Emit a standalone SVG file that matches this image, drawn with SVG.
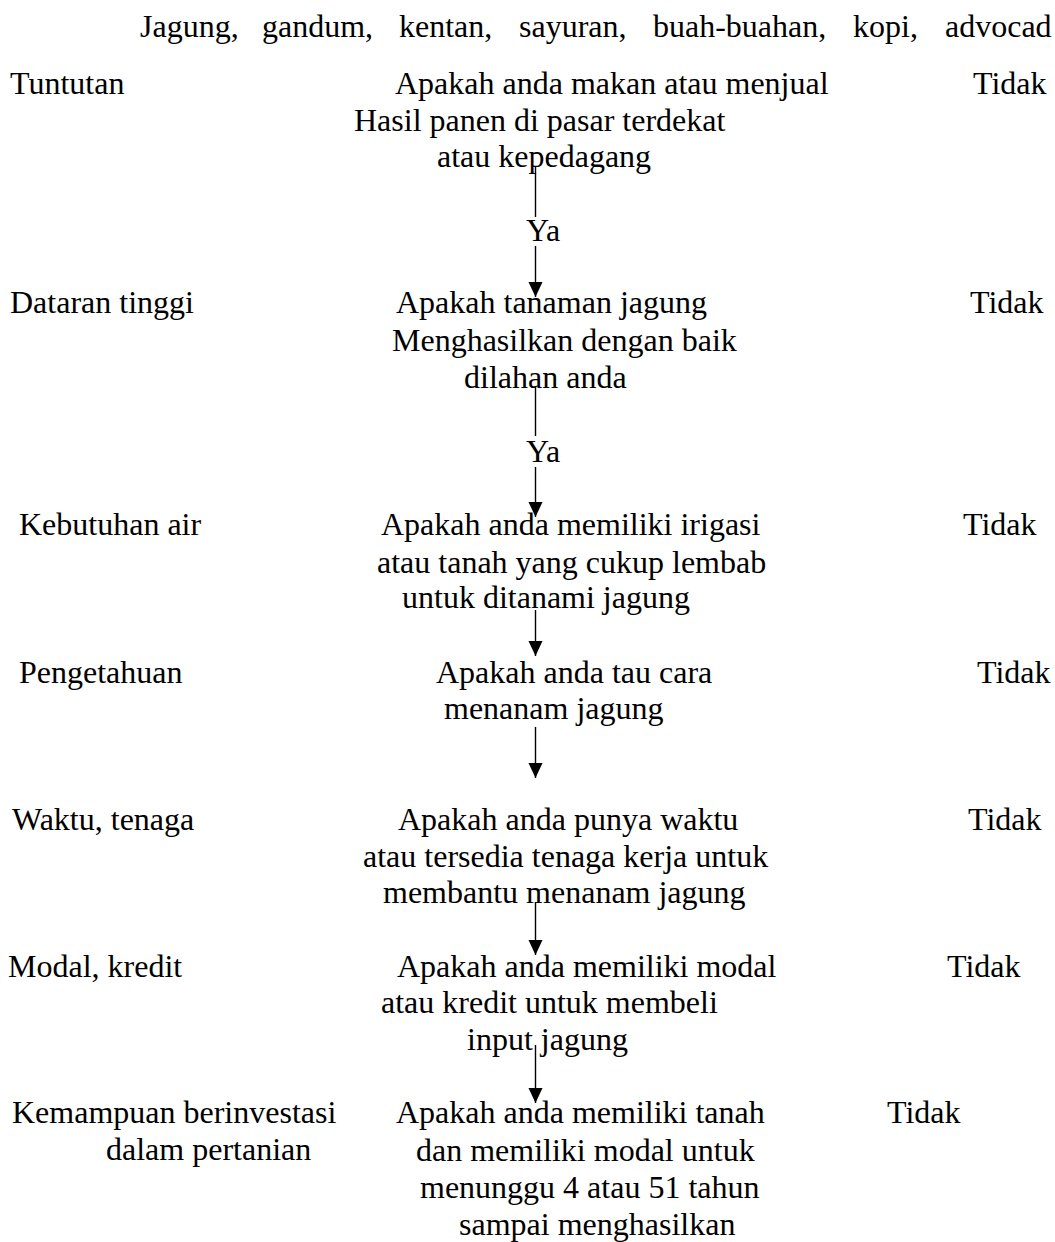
<svg xmlns="http://www.w3.org/2000/svg" width="1055" height="1242" viewBox="0 0 1055 1242">
<defs>
<style>
text{font-family:"Liberation Serif","Times New Roman",serif;font-size:32px;fill:#000}
.c{stroke:#000;stroke-width:1.4;fill:none}
</style>
<marker id="ah" markerUnits="userSpaceOnUse" markerWidth="16" markerHeight="16" refX="15" refY="7" orient="auto">
<path d="M0,0 L15,7 L0,14 z" fill="#000"/>
</marker>
</defs>
<rect width="1055" height="1242" fill="#fff"/>
<g id="header">
<text y="37"><tspan x="140">Jagung,</tspan><tspan x="262">gandum,</tspan><tspan x="399">kentan,</tspan><tspan x="519">sayuran,</tspan><tspan x="653">buah-buahan,</tspan><tspan x="853">kopi,</tspan><tspan x="945">advocad</tspan></text>
</g>
<g id="labels">
<text x="10" y="94">Tuntutan</text>
<text x="10" y="313">Dataran tinggi</text>
<text x="19" y="535">Kebutuhan air</text>
<text x="19" y="683">Pengetahuan</text>
<text x="12" y="830">Waktu, tenaga</text>
<text x="8" y="977">Modal, kredit</text>
<text x="12" y="1123">Kemampuan berinvestasi</text>
<text x="106" y="1160">dalam pertanian</text>
</g>
<g id="q1"><text x="395" y="94">Apakah anda makan atau menjual</text><text x="354" y="131">Hasil panen di pasar terdekat</text><text x="437" y="167">atau kepedagang</text></g>
<g id="q2"><text x="396" y="313">Apakah tanaman jagung</text><text x="392" y="351">Menghasilkan dengan baik</text><text x="464" y="388">dilahan anda</text></g>
<g id="q3"><text x="381" y="535">Apakah anda memiliki irigasi</text><text x="377" y="573">atau tanah yang cukup lembab</text><text x="402" y="608">untuk ditanami jagung</text></g>
<g id="q4"><text x="436" y="683">Apakah anda tau cara</text><text x="444" y="719">menanam jagung</text></g>
<g id="q5"><text x="398" y="830">Apakah anda punya waktu</text><text x="363" y="867">atau tersedia tenaga kerja untuk</text><text x="383" y="903">membantu menanam jagung</text></g>
<g id="q6"><text x="397" y="977">Apakah anda memiliki modal</text><text x="381" y="1013">atau kredit untuk membeli</text><text x="467" y="1050">input jagung</text></g>
<g id="q7"><text x="396" y="1123">Apakah anda memiliki tanah</text><text x="416" y="1161">dan memiliki modal untuk</text><text x="420" y="1198">menunggu 4 atau 51 tahun</text><text x="459" y="1235">sampai menghasilkan</text></g>
<g id="tidak">
<text x="973" y="94">Tidak</text>
<text x="970" y="313">Tidak</text>
<text x="963" y="535">Tidak</text>
<text x="977" y="683">Tidak</text>
<text x="968" y="830">Tidak</text>
<text x="947" y="977">Tidak</text>
<text x="887" y="1123">Tidak</text>
</g>
<g id="connectors">
<line class="c" x1="535.5" y1="166" x2="535.5" y2="217"/>
<text x="526" y="241">Ya</text>
<line class="c" x1="535.5" y1="246" x2="535.5" y2="297" marker-end="url(#ah)"/>
<line class="c" x1="535.5" y1="387" x2="535.5" y2="436"/>
<text x="526" y="462">Ya</text>
<line class="c" x1="535.5" y1="467" x2="535.5" y2="517" marker-end="url(#ah)"/>
<line class="c" x1="535.5" y1="610" x2="535.5" y2="656" marker-end="url(#ah)"/>
<line class="c" x1="535.5" y1="727" x2="535.5" y2="778" marker-end="url(#ah)"/>
<line class="c" x1="535.5" y1="902" x2="535.5" y2="955" marker-end="url(#ah)"/>
<line class="c" x1="535.5" y1="1045" x2="535.5" y2="1103" marker-end="url(#ah)"/>
</g>
</svg>
